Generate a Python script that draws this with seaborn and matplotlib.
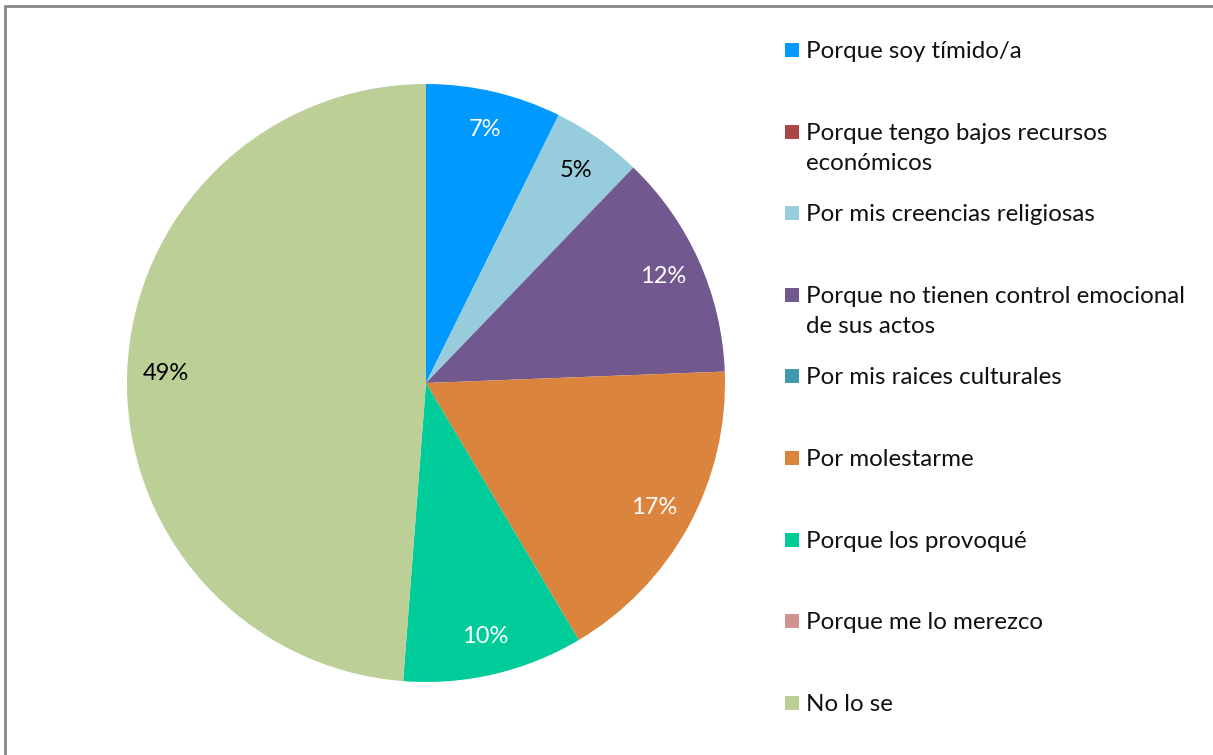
import matplotlib
matplotlib.use("Agg")
import matplotlib.pyplot as plt
import seaborn as sns
from matplotlib.patches import Rectangle
from matplotlib.lines import Line2D

# Answers (counts, n = 41)
categories = [
    "Porque soy tímido/a",
    "Porque tengo bajos recursos\neconómicos",
    "Por mis creencias religiosas",
    "Porque no tienen control emocional\nde sus actos",
    "Por mis raices culturales",
    "Por molestarme",
    "Porque los provoqué",
    "Porque me lo merezco",
    "No lo se",
]
counts = [3, 0, 2, 5, 0, 7, 4, 0, 20]
colors = ["#0099FF", "#AA4643", "#96CCDC", "#71588F", "#4198AF",
          "#DB843D", "#00CC99", "#D19392", "#BBCF97"]
label_colors = ["white", "white", "black", "white", "white",
                "white", "white", "white", "black"]

sns.set_style("white")
plt.rcParams["font.family"] = ["Lato", "DejaVu Sans"]

fig = plt.figure(figsize=(12.13, 7.55), dpi=100)
W, H = 1213, 755
cx, cy, r = 426, 383, 299
ax = fig.add_axes([(cx - r) / W, (H - cy - r) / H, 2 * r / W, 2 * r / H])

wedges, texts, autotexts = ax.pie(
    counts,
    colors=sns.color_palette(colors),
    startangle=90,
    counterclock=False,
    autopct=lambda p: f"{p:.0f}%" if p > 0 else "",
    pctdistance=0.87,
    wedgeprops=dict(linewidth=0),
    textprops=dict(fontsize=17),
)
for t, c in zip(autotexts, label_colors):
    t.set_color(c)
ax.set_xlim(-1, 1)
ax.set_ylim(-1, 1)
ax.set_aspect("auto")
ax.axis("off")

# legend, drawn by hand so the marker sits on the first text line
y0, step = 50, 81.6
for i, (lab, col) in enumerate(zip(categories, colors)):
    y = y0 + i * step
    fig.patches.append(Rectangle((785 / W, 1 - (y + 7) / H), 14 / W, 14 / H,
                                 transform=fig.transFigure, facecolor=col,
                                 edgecolor="none"))
    fig.text(806 / W, 1 - (y - 9) / H, lab, fontsize=17.4, va="top",
             ha="left", color="#111111", linespacing=1.53)

# chart frame
fig.add_artist(Line2D([5 / W, 5 / W], [0, 1 - 6 / H], color="#888888",
                      lw=2, transform=fig.transFigure))
fig.add_artist(Line2D([5 / W, 1], [1 - 6 / H, 1 - 6 / H], color="#888888",
                      lw=2, transform=fig.transFigure))

fig.savefig("out.png", dpi=100)
